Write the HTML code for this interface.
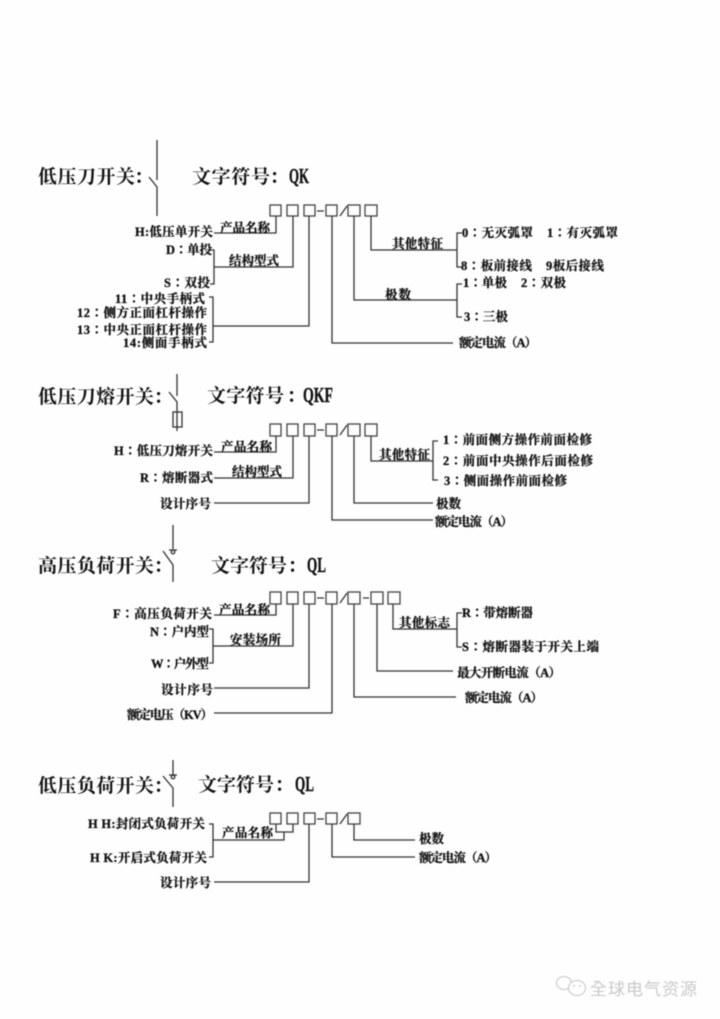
<!DOCTYPE html>
<html lang="zh-TW"><head><meta charset="utf-8">
<style>
html,body{margin:0;padding:0;background:#fff;width:720px;height:1019px;overflow:hidden}
svg{display:block;filter:blur(.4px)}
text{font-family:"Liberation Serif","Noto Serif CJK SC",serif;font-weight:700;fill:#111}
.s{font-size:12.5px;stroke:#111;stroke-width:.3px}
.t{font-size:19px;font-weight:700}
.q{font-size:21px;font-weight:700;stroke:#111;stroke-width:.4px}
.c{font-size:19px;font-weight:700;text-anchor:middle}
.w{font-family:"Liberation Sans","Noto Sans CJK SC",sans-serif;font-size:17px;font-weight:400;fill:#c9c9c9}
.l{fill:none;stroke:#333;stroke-width:1.3}
.b{fill:#fff;stroke:#444;stroke-width:1.3}
</style></head><body>
<svg width="720" height="1019" viewBox="0 0 720 1019" xmlns="http://www.w3.org/2000/svg">
<rect width="720" height="1019" fill="#fefefe"/>

<!-- Section 1 -->
<text class="t" x="38" y="183" textLength="97" lengthAdjust="spacing">低压刀开关</text>
<text class="c" x="143.5" y="183">：</text>
<text class="t" x="192" y="183" textLength="78" lengthAdjust="spacing">文字符号</text>
<text class="c" x="279" y="183">：</text>
<text class="q" x="289" y="183" textLength="20" lengthAdjust="spacingAndGlyphs">QK</text>
<path class="l" d="M157 140V180M149 177L157 187V216"/>
<g class="b"><rect x="270" y="205" width="11" height="11"/><rect x="287" y="205" width="11" height="11"/><rect x="304" y="205" width="11" height="11"/><rect x="326" y="205" width="11" height="11"/><rect x="348" y="205" width="12" height="11"/><rect x="365" y="205" width="12" height="11"/></g>
<path class="l" d="M317 211H324M340 216L347 206"/>
<path class="l" d="M214 233H276V216M210 250H214V284H210M214 267H293V216M209 297H213V342H209M213 326H309V216M332 216V343H453M354 216V300H457M462 284H457V317H462M371 216V250H457M462 233H457V267H462"/>
<text class="s" x="135" y="236" textLength="78" lengthAdjust="spacing">H:低压单开关</text>
<text class="s" x="220" y="232" textLength="50" lengthAdjust="spacing">产品名称</text>
<text class="s" x="166" y="254" textLength="46" lengthAdjust="spacing">D：单投</text>
<text class="s" x="229" y="265" textLength="50" lengthAdjust="spacing">结构型式</text>
<text class="s" x="164" y="287" textLength="46" lengthAdjust="spacing">S：双投</text>
<text class="s" x="115" y="303" textLength="90" lengthAdjust="spacing">11：中央手柄式</text>
<text class="s" x="77" y="317" textLength="130" lengthAdjust="spacing">12：侧方正面杠杆操作</text>
<text class="s" x="77" y="334" textLength="130" lengthAdjust="spacing">13：中央正面杠杆操作</text>
<text class="s" x="123" y="347" textLength="84" lengthAdjust="spacing">14:侧面手柄式</text>
<text class="s" x="392" y="248" textLength="51" lengthAdjust="spacing">其他特征</text>
<text class="s" x="462" y="237" textLength="71" lengthAdjust="spacing">0：无灭弧罩</text>
<text class="s" x="547" y="237" textLength="71" lengthAdjust="spacing">1：有灭弧罩</text>
<text class="s" x="461" y="270" textLength="71" lengthAdjust="spacing">8：板前接线</text>
<text class="s" x="546" y="270" textLength="58" lengthAdjust="spacing">9板后接线</text>
<text class="s" x="463" y="287" textLength="44" lengthAdjust="spacing">1：单极</text>
<text class="s" x="521" y="287" textLength="45" lengthAdjust="spacing">2：双极</text>
<text class="s" x="385" y="299" textLength="26" lengthAdjust="spacing">极数</text>
<text class="s" x="464" y="321" textLength="44" lengthAdjust="spacing">3：三极</text>
<text class="s" x="459" y="347" textLength="78" lengthAdjust="spacing">额定电流（A）</text>

<!-- Section 2 -->
<text class="t" x="38" y="403" textLength="116" lengthAdjust="spacing">低压刀熔开关</text>
<text class="c" x="163" y="403">：</text>
<text class="t" x="207" y="402" textLength="77" lengthAdjust="spacing">文字符号</text>
<text class="c" x="296" y="402">：</text>
<text class="q" x="303" y="402" textLength="30" lengthAdjust="spacingAndGlyphs">QKF</text>
<path class="l" d="M177 374V396M169 392L177 402V412M177 412V431"/>
<rect class="l" x="173" y="412" width="9" height="15"/>
<g class="b"><rect x="270" y="424" width="11" height="12"/><rect x="287" y="424" width="11" height="12"/><rect x="304" y="424" width="11" height="12"/><rect x="326" y="424" width="11" height="12"/><rect x="348" y="424" width="12" height="12"/><rect x="365" y="424" width="12" height="12"/></g>
<path class="l" d="M317 430H324M340 435L347 425"/>
<path class="l" d="M214 452H276V436M214 478H293V436M214 503H309V436M332 436V520H433M354 436V503H433M371 436V461H433M438 441H433V480H438"/>
<text class="s" x="114" y="455" textLength="99" lengthAdjust="spacing">H：低压刀熔开关</text>
<text class="s" x="221" y="451" textLength="51" lengthAdjust="spacing">产品名称</text>
<text class="s" x="140" y="482" textLength="73" lengthAdjust="spacing">R：熔断器式</text>
<text class="s" x="232" y="476" textLength="50" lengthAdjust="spacing">结构型式</text>
<text class="s" x="160" y="508" textLength="51" lengthAdjust="spacing">设计序号</text>
<text class="s" x="379" y="459" textLength="51" lengthAdjust="spacing">其他特征</text>
<text class="s" x="443" y="444" textLength="149" lengthAdjust="spacing">1：前面侧方操作前面检修</text>
<text class="s" x="443" y="465" textLength="150" lengthAdjust="spacing">2：前面中央操作后面检修</text>
<text class="s" x="444" y="485" textLength="123" lengthAdjust="spacing">3：侧面操作前面检修</text>
<text class="s" x="436" y="508" textLength="25" lengthAdjust="spacing">极数</text>
<text class="s" x="435" y="526" textLength="78" lengthAdjust="spacing">额定电流（A）</text>

<!-- Section 3 -->
<text class="t" x="38" y="572" textLength="116" lengthAdjust="spacing">高压负荷开关</text>
<text class="c" x="163" y="572">：</text>
<text class="t" x="211" y="572" textLength="76" lengthAdjust="spacing">文字符号</text>
<text class="c" x="297" y="572">：</text>
<text class="q" x="307" y="572" textLength="19" lengthAdjust="spacingAndGlyphs">QL</text>
<path class="l" d="M173 525V549M169 550H177M163 551L173 565V582"/>
<circle class="l" cx="173" cy="552" r="1.8"/>
<g class="b"><rect x="270" y="592" width="11" height="12"/><rect x="287" y="592" width="11" height="12"/><rect x="304" y="592" width="11" height="12"/><rect x="326" y="592" width="11" height="12"/><rect x="348" y="592" width="12" height="12"/><rect x="371" y="592" width="12" height="12"/><rect x="388" y="592" width="12" height="12"/></g>
<path class="l" d="M317 598H324M340 603L347 593M363 598H369"/>
<path class="l" d="M214 615H276V604M209 629H213V663H209M213 646H293V604M214 688H309V604M214 713H332V604M354 604V697H456M377 604V671H453M393 604V629H457M462 613H457V647H462"/>
<text class="s" x="113" y="618" textLength="99" lengthAdjust="spacing">F：高压负荷开关</text>
<text class="s" x="219" y="614" textLength="51" lengthAdjust="spacing">产品名称</text>
<text class="s" x="150" y="636" textLength="59" lengthAdjust="spacing">N：<tspan lang="zh-CN">户内型</tspan></text>
<text class="s" x="230" y="644" textLength="51" lengthAdjust="spacing">安装场所</text>
<text class="s" x="151" y="668" textLength="58" lengthAdjust="spacing">W：<tspan lang="zh-CN">户外型</tspan></text>
<text class="s" x="161" y="694" textLength="52" lengthAdjust="spacing">设计序号</text>
<text class="s" x="127" y="719" textLength="86" lengthAdjust="spacing">额定电压（KV）</text>
<text class="s" x="399" y="627" textLength="51" lengthAdjust="spacing">其他标志</text>
<text class="s" x="462" y="617" textLength="71" lengthAdjust="spacing">R：带熔断器</text>
<text class="s" x="462" y="651" textLength="137" lengthAdjust="spacing">S：熔断器装于开关上端</text>
<text class="s" x="457" y="677" textLength="104" lengthAdjust="spacing">最大开断电流（A）</text>
<text class="s" x="465" y="702" textLength="78" lengthAdjust="spacing">额定电流（A）</text>

<!-- Section 4 -->
<text class="t" x="38" y="792" textLength="116" lengthAdjust="spacing">低压负荷开关</text>
<text class="c" x="163" y="792">：</text>
<text class="t" x="198" y="791" textLength="76" lengthAdjust="spacing">文字符号</text>
<text class="c" x="284" y="791">：</text>
<text class="q" x="295" y="791" textLength="19" lengthAdjust="spacingAndGlyphs">QL</text>
<path class="l" d="M173 760V775M169 775H177M163 776L173 788V807"/>
<circle class="l" cx="173" cy="777" r="1.8"/>
<g class="b"><rect x="270" y="813" width="11" height="11"/><rect x="287" y="813" width="11" height="11"/><rect x="304" y="813" width="11" height="11"/><rect x="326" y="813" width="11" height="11"/><rect x="348" y="813" width="12" height="11"/></g>
<path class="l" d="M317 819H324M340 824L347 814"/>
<path class="l" d="M276 824V832H293V824M284 832V840H213M209 824H213V857H209M214 882H309V824M332 824V857H415M354 824V840H415"/>
<text class="s" x="88" y="828" textLength="117" lengthAdjust="spacing">H H:封闭式负荷开关</text>
<text class="s" x="90" y="862" textLength="117" lengthAdjust="spacing">H K:开启式负荷开关</text>
<text class="s" x="222" y="837" textLength="51" lengthAdjust="spacing">产品名称</text>
<text class="s" x="160" y="887" textLength="51" lengthAdjust="spacing">设计序号</text>
<text class="s" x="419" y="843" textLength="25" lengthAdjust="spacing">极数</text>
<text class="s" x="419" y="862" textLength="78" lengthAdjust="spacing">额定电流（A）</text>

<!-- Watermark -->
<g fill="#fefefe" stroke="#d0d0d0" stroke-width="1.3">
<ellipse cx="564" cy="983" rx="7.5" ry="6.5"/>
<ellipse cx="577" cy="988" rx="8.5" ry="7.5"/>
</g>
<g fill="#cfcfcf"><circle cx="574" cy="986" r="1"/><circle cx="580" cy="986" r="1"/></g>
<text class="w" x="590" y="995" textLength="107" lengthAdjust="spacing">全球电气资源</text>
</svg>
</body></html>
